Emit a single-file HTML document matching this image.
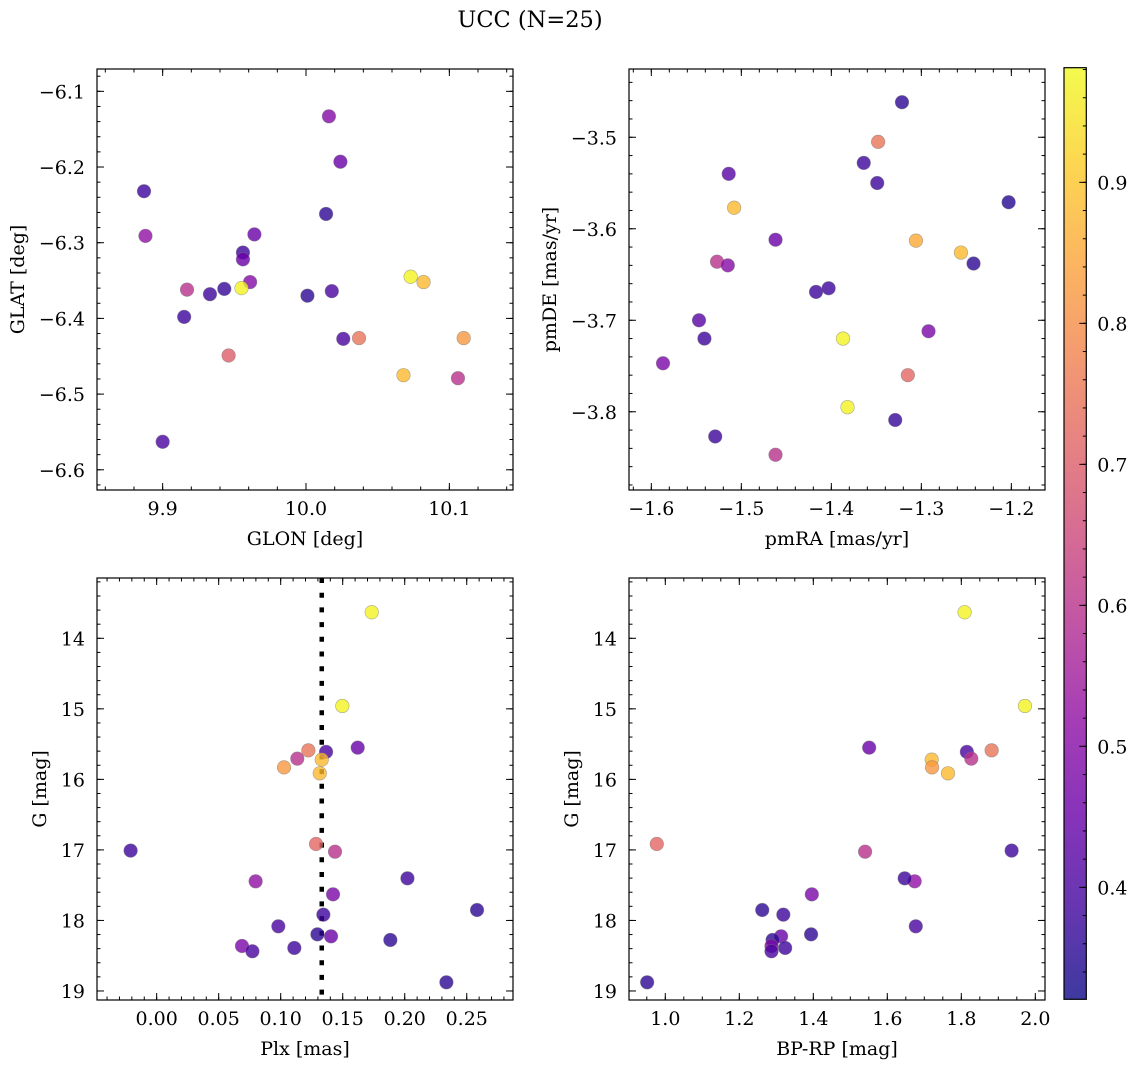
<!DOCTYPE html>
<html><head><meta charset="utf-8"><title>UCC (N=25)</title>
<style>
html,body{margin:0;padding:0;background:#fff;}
svg{display:block;font-family:"DejaVu Serif","Liberation Serif",serif;}
</style></head>
<body>
<svg id="fig" width="1136" height="1067" viewBox="0 0 1136 1067" xmlns="http://www.w3.org/2000/svg">
<text x="530" y="27" font-size="22.5" text-anchor="middle">UCC (N=25)</text>
</svg>
<script>
// ---- data ----
const glon = [10.016,10.024,9.887,10.014,9.888,9.964,9.956,9.956,10.073,10.082,9.961,9.917,9.943,9.955,9.933,10.001,10.018,9.915,10.026,10.037,10.110,9.946,10.068,10.106,9.900];
const glat = [-6.133,-6.193,-6.232,-6.262,-6.291,-6.289,-6.313,-6.322,-6.345,-6.352,-6.352,-6.362,-6.361,-6.360,-6.368,-6.370,-6.364,-6.398,-6.427,-6.426,-6.426,-6.449,-6.475,-6.479,-6.563];
const probGal = [0.50,0.45,0.38,0.36,0.52,0.45,0.38,0.45,0.97,0.88,0.50,0.60,0.37,0.97,0.38,0.36,0.40,0.38,0.40,0.75,0.82,0.70,0.88,0.60,0.40];

const pmra = [-1.3215,-1.348,-1.364,-1.349,-1.203,-1.514,-1.508,-1.462,-1.306,-1.256,-1.242,-1.527,-1.515,-1.417,-1.403,-1.547,-1.541,-1.587,-1.387,-1.292,-1.315,-1.382,-1.329,-1.529,-1.462];
const pmde = [-3.4617,-3.505,-3.528,-3.550,-3.571,-3.540,-3.577,-3.612,-3.613,-3.626,-3.638,-3.636,-3.640,-3.669,-3.665,-3.700,-3.720,-3.747,-3.720,-3.712,-3.760,-3.795,-3.809,-3.827,-3.847];
const probPm = [0.36,0.75,0.38,0.38,0.35,0.42,0.88,0.45,0.85,0.88,0.36,0.60,0.50,0.38,0.38,0.42,0.38,0.48,0.97,0.48,0.72,0.97,0.37,0.38,0.60];

const gmag = [13.631,14.959,15.55,15.61,15.588,15.706,15.72,15.83,15.914,16.916,17.025,17.01,17.445,17.403,17.63,17.852,17.918,18.083,18.197,18.225,18.277,18.362,18.437,18.39,18.877];
const plx  = [0.1734,0.1497,0.1621,0.1366,0.1223,0.1134,0.1331,0.1027,0.1315,0.1285,0.1438,-0.021,0.0798,0.2022,0.1422,0.2583,0.1344,0.0981,0.1296,0.1406,0.1884,0.0688,0.0772,0.111,0.2336];
const bprp = [1.809,1.972,1.551,1.815,1.882,1.827,1.720,1.721,1.764,0.977,1.540,1.936,1.674,1.647,1.396,1.262,1.319,1.677,1.394,1.313,1.290,1.287,1.287,1.324,0.951];
const probCmd = [0.97,0.97,0.45,0.40,0.75,0.60,0.88,0.82,0.88,0.72,0.60,0.38,0.52,0.38,0.48,0.36,0.38,0.40,0.36,0.45,0.36,0.48,0.40,0.38,0.36];

const plxMedian = [0.1331];
const cbTicks = [0.4,0.5,0.6,0.7,0.8,0.9];

// ---- helpers ----
const NS = "http://www.w3.org/2000/svg";
const svg = document.getElementById("fig");
function mk(tag, attrs, parent){
  const e = document.createElementNS(NS, tag);
  for (const k in attrs) e.setAttribute(k, attrs[k]);
  (parent||svg).appendChild(e);
  return e;
}
const CMIN = 0.3206, CMAX = 0.9813;
const plasma = [[13,8,135],[65,4,157],[106,0,168],[143,13,164],[177,42,144],[204,71,120],[225,100,98],[242,132,75],[252,166,54],[252,206,37],[240,249,33]];
function cmap(v){
  let t = (v-CMIN)/(CMAX-CMIN); t = Math.max(0,Math.min(1,t));
  const p = t*10, i = Math.min(9,Math.floor(p)), f = p-i;
  const a = plasma[i], b = plasma[i+1];
  return "rgb("+a.map((x,k)=>Math.round(x+(b[k]-x)*f)).join(",")+")";
}
function fmt(v, d){ const s = Math.abs(v).toFixed(d); return (v < -1e-9 ? "\u2212" : "") + s; }
const FS = 19;

function panel(cfg){
  const g = mk("g", {});
  
  
  const {L,R,T,B} = cfg;
  const sx = v => L + (v-cfg.x0)/(cfg.x1-cfg.x0)*(R-L);
  const sy = cfg.invert ? (v => T + (v-cfg.y0)/(cfg.y1-cfg.y0)*(B-T))
                        : (v => B - (v-cfg.y0)/(cfg.y1-cfg.y0)*(B-T));
  const tg = mk("g", {stroke:"#000","stroke-width":1}, g);
  const lo = Math.min(cfg.x0,cfg.x1), hi = Math.max(cfg.x0,cfg.x1);
  for (let k = Math.ceil(lo/cfg.xminor-1e-6); k*cfg.xminor <= hi+1e-9; k++){
    const x = sx(k*cfg.xminor);
    mk("line",{x1:x,x2:x,y1:B,y2:B-3.5},tg); mk("line",{x1:x,x2:x,y1:T,y2:T+3.5},tg);
  }
  const ylo = Math.min(cfg.y0,cfg.y1), yhi = Math.max(cfg.y0,cfg.y1);
  for (let k = Math.ceil(ylo/cfg.yminor-1e-6); k*cfg.yminor <= yhi+1e-9; k++){
    const y = sy(k*cfg.yminor);
    mk("line",{x1:L,x2:L+3.5,y1:y,y2:y},tg); mk("line",{x1:R,x2:R-3.5,y1:y,y2:y},tg);
  }
  cfg.xticks.forEach(v=>{
    const x = sx(v);
    mk("line",{x1:x,x2:x,y1:B,y2:B-7},tg); mk("line",{x1:x,x2:x,y1:T,y2:T+7},tg);
    const t = mk("text",{x:x,y:B+25,"font-size":FS,"text-anchor":"middle"},g);
    
    
    t.textContent = fmt(v, cfg.xdec);
  });
  cfg.yticks.forEach(v=>{
    const y = sy(v);
    mk("line",{x1:L,x2:L+7,y1:y,y2:y},tg); mk("line",{x1:R,x2:R-7,y1:y,y2:y},tg);
    const t = mk("text",{x:L-12,y:y+7,"font-size":FS,"text-anchor":"end"},g);
    
    
    t.textContent = fmt(v, cfg.ydec);
  });
  const xl = mk("text",{x:(L+R)/2,y:B+55,"font-size":FS,"text-anchor":"middle"},g);
  
  
  xl.textContent = cfg.xlabel;
  const yl = mk("text",{x:0,y:0,"font-size":FS,"text-anchor":"middle",transform:`translate(${cfg.ylx},${(T+B)/2}) rotate(-90)`},g);
  
  
  yl.textContent = cfg.ylabel;
  if (cfg.vline){
    cfg.vline.forEach(v=>{
      const l = mk("line",{x1:sx(v),x2:sx(v),y1:T,y2:B,stroke:"#000","stroke-width":4.5,"stroke-dasharray":"5 9.7"},g);
      
      
    });
  }
  cfg.xs.forEach((xv,i)=>{
    const c = mk("circle",{cx:sx(xv),cy:sy(cfg.ys[i]),r:6.8,fill:cmap(cfg.cs[i]),"fill-opacity":0.8,stroke:"#777","stroke-opacity":0.6,"stroke-width":0.6},g);
    
    
  });
  const f = mk("rect",{x:L,y:T,width:R-L,height:B-T,fill:"none",stroke:"#000","stroke-width":1.2},g);
  
  
}

panel({name:"glon-glat-panel",L:97,R:513,T:69,B:490,x0:9.8542,x1:10.1444,y0:-6.6267,y1:-6.0705,
  xticks:[9.9,10.0,10.1],xdec:1,yticks:[-6.1,-6.2,-6.3,-6.4,-6.5,-6.6],ydec:1,xminor:0.02,yminor:0.02,
  xlabel:"GLON [deg]",ylabel:"GLAT [deg]",ylx:24,xs:glon,ys:glat,cs:probGal});
panel({name:"proper-motion-panel",L:629,R:1045,T:69,B:490,x0:-1.6248,x1:-1.1626,y0:-3.8855,y1:-3.4254,
  xticks:[-1.6,-1.5,-1.4,-1.3,-1.2],xdec:1,yticks:[-3.5,-3.6,-3.7,-3.8],ydec:1,xminor:0.02,yminor:0.02,
  xlabel:"pmRA [mas/yr]",ylabel:"pmDE [mas/yr]",ylx:556,xs:pmra,ys:pmde,cs:probPm});
panel({name:"plx-g-panel",L:97,R:513,T:578,B:1000,x0:-0.0481,x1:0.2873,y0:13.145,y1:19.128,invert:true,
  xticks:[0,0.05,0.1,0.15,0.2,0.25],xdec:2,yticks:[14,15,16,17,18,19],ydec:0,xminor:0.01,yminor:0.2,
  xlabel:"Plx [mas]",ylabel:"G [mag]",ylx:46,xs:plx,ys:gmag,cs:probCmd,vline:plxMedian});
panel({name:"cmd-panel",L:629,R:1045,T:578,B:1000,x0:0.9019,x1:2.0262,y0:13.145,y1:19.128,invert:true,
  xticks:[1.0,1.2,1.4,1.6,1.8,2.0],xdec:1,yticks:[14,15,16,17,18,19],ydec:0,xminor:0.05,yminor:0.2,
  xlabel:"BP-RP [mag]",ylabel:"G [mag]",ylx:578,xs:bprp,ys:gmag,cs:probCmd});

// ---- colorbar ----
(function(){
  const L=1064,R=1086.3,T=67.7,B=999.3;
  const defs = mk("defs",{});
  const lg = mk("linearGradient",{id:"cbg",x1:0,y1:1,x2:0,y2:0},defs);
  plasma.forEach((c,i)=>mk("stop",{offset:(i/10),"stop-color":`rgb(${c.join(",")})`},lg));
  const g = mk("g",{});
  
  
  mk("rect",{x:L,y:T,width:R-L,height:B-T,fill:"url(#cbg)","fill-opacity":0.8},g);
  const sy = v => B - (v-CMIN)/(CMAX-CMIN)*(B-T);
  for (let k=Math.ceil(CMIN/0.02); k*0.02<=CMAX; k++){
    const y = sy(k*0.02);
    mk("line",{x1:R,x2:R-3.5,y1:y,y2:y,stroke:"#000","stroke-width":1},g);
  }
  cbTicks.forEach(v=>{
    const y = sy(v);
    mk("line",{x1:R,x2:R-7,y1:y,y2:y,stroke:"#000","stroke-width":1},g);
    const t = mk("text",{x:R+11,y:y+7,"font-size":FS},g);
    
    
    t.textContent = v.toFixed(1);
  });
  mk("rect",{x:L,y:T,width:R-L,height:B-T,fill:"none",stroke:"#000","stroke-width":1.2},g);
})();
</script>
</body></html>
